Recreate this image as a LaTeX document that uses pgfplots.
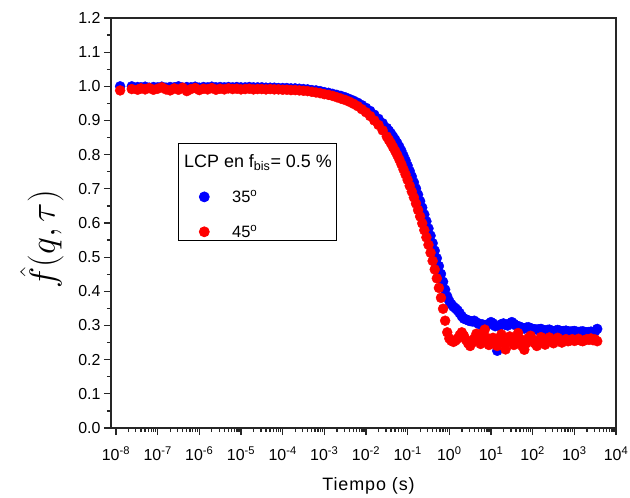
\documentclass[border=0pt]{standalone}
\usepackage{graphicx}
\usepackage{fontspec}
\setmainfont{Liberation Sans}
\usepackage{pgfplots}
\usepackage{pgfplotstable}
\pgfplotsset{compat=1.18}

\pgfplotstableread{
x y
1.259e-8 1.000
2.399e-8 1.000
3.311e-8 0.998
3.981e-8 0.997
5.012e-8 0.999
6.310e-8 0.996
7.943e-8 0.998
1e-7 0.997
1.259e-7 0.999
1.585e-7 0.996
1.995e-7 0.998
2.512e-7 0.997
3.162e-7 1.000
3.981e-7 0.996
5.012e-7 0.998
6.310e-7 0.997
7.943e-7 0.999
1e-6 0.996
1.259e-6 0.998
1.585e-6 0.997
1.995e-6 0.999
2.512e-6 0.997
3.162e-6 0.998
3.981e-6 0.997
5.012e-6 0.998
6.310e-6 0.997
7.943e-6 0.998
1e-5 0.997
1.259e-5 0.997
1.585e-5 0.998
1.995e-5 0.997
2.512e-5 0.997
3.162e-5 0.997
3.981e-5 0.996
5.012e-5 0.996
6.310e-5 0.996
7.943e-5 0.995
1e-4 0.995
1.259e-4 0.995
1.585e-4 0.994
1.995e-4 0.994
2.512e-4 0.993
3.162e-4 0.992
3.981e-4 0.991
5.012e-4 0.989
6.310e-4 0.988
7.943e-4 0.986
1e-3 0.983
1.259e-3 0.981
1.585e-3 0.978
1.995e-3 0.975
2.512e-3 0.972
3.162e-3 0.968
3.981e-3 0.963
5.012e-3 0.958
6.310e-3 0.952
7.943e-3 0.945
1e-2 0.937
1.259e-2 0.928
1.585e-2 0.917
1.995e-2 0.905
2.512e-2 0.892
3.162e-2 0.878
3.548e-2 0.870
3.981e-2 0.862
4.467e-2 0.853
5.012e-2 0.844
5.623e-2 0.834
6.310e-2 0.823
7.079e-2 0.811
7.943e-2 0.797
8.913e-2 0.783
1e-1 0.768
1.122e-1 0.752
1.259e-1 0.736
1.413e-1 0.719
1.585e-1 0.701
1.778e-1 0.683
1.995e-1 0.664
2.239e-1 0.645
2.512e-1 0.625
2.818e-1 0.605
3.162e-1 0.584
3.548e-1 0.563
3.981e-1 0.541
4.467e-1 0.519
5.012e-1 0.497
5.623e-1 0.474
6.310e-1 0.451
7.079e-1 0.428
7.943e-1 0.405
8.913e-1 0.385
1.000 0.371
1.122 0.362
1.259 0.355
1.413 0.350
1.585 0.344
1.778 0.336
1.995 0.327
2.239 0.320
2.512 0.318
2.818 0.315
3.162 0.313
3.548 0.312
3.981 0.314
4.467 0.309
5.012 0.305
5.623 0.304
6.310 0.303
7.079 0.301
7.943 0.300
8.913 0.305
10 0.310
11.22 0.306
12.59 0.298
14.13 0.226
15.85 0.298
17.78 0.304
19.95 0.306
22.39 0.302
25.12 0.300
28.18 0.306
31.62 0.310
35.48 0.305
39.81 0.300
44.67 0.298
50.12 0.296
56.23 0.293
63.10 0.291
70.79 0.294
79.43 0.295
89.13 0.292
100 0.290
112.2 0.289
125.9 0.288
141.3 0.289
158.5 0.290
177.8 0.287
199.5 0.285
223.9 0.287
251.2 0.288
281.8 0.285
316.2 0.283
354.8 0.285
398.1 0.287
446.7 0.285
501.2 0.283
562.3 0.284
631.0 0.285
707.9 0.283
794.3 0.282
891.3 0.283
1000 0.284
1122 0.282
1259 0.281
1413 0.282
1585 0.283
1778 0.281
1995 0.280
2239 0.281
2512 0.282
2818 0.281
3162 0.283
3548 0.290
}\bluedata

\pgfplotstableread{
x y
1.259e-8 0.988
2.399e-8 0.992
3.311e-8 0.990
3.981e-8 0.994
5.012e-8 0.991
6.310e-8 0.995
7.943e-8 0.990
1e-7 0.993
1.259e-7 0.997
1.585e-7 0.991
1.995e-7 0.988
2.512e-7 0.994
3.162e-7 0.990
3.981e-7 0.996
5.012e-7 0.986
6.310e-7 0.992
7.943e-7 0.995
1e-6 0.989
1.259e-6 0.993
1.585e-6 0.991
1.995e-6 0.995
2.512e-6 0.990
3.162e-6 0.993
3.981e-6 0.991
5.012e-6 0.994
6.310e-6 0.992
7.943e-6 0.993
1e-5 0.991
1.259e-5 0.992
1.585e-5 0.993
1.995e-5 0.991
2.512e-5 0.992
3.162e-5 0.992
3.981e-5 0.991
5.012e-5 0.992
6.310e-5 0.991
7.943e-5 0.991
1e-4 0.990
1.259e-4 0.990
1.585e-4 0.989
1.995e-4 0.989
2.512e-4 0.988
3.162e-4 0.987
3.981e-4 0.986
5.012e-4 0.984
6.310e-4 0.982
7.943e-4 0.980
1e-3 0.977
1.259e-3 0.975
1.585e-3 0.972
1.995e-3 0.968
2.512e-3 0.964
3.162e-3 0.960
3.981e-3 0.955
5.012e-3 0.949
6.310e-3 0.942
7.943e-3 0.933
1e-2 0.924
1.259e-2 0.913
1.585e-2 0.900
1.995e-2 0.887
2.512e-2 0.871
3.162e-2 0.853
3.548e-2 0.843
3.981e-2 0.833
4.467e-2 0.822
5.012e-2 0.811
5.623e-2 0.799
6.310e-2 0.786
7.079e-2 0.772
7.943e-2 0.757
8.913e-2 0.742
1e-1 0.726
1.122e-1 0.709
1.259e-1 0.692
1.413e-1 0.675
1.585e-1 0.657
1.778e-1 0.638
1.995e-1 0.619
2.239e-1 0.599
2.512e-1 0.579
2.818e-1 0.558
3.162e-1 0.536
3.548e-1 0.513
3.981e-1 0.489
4.467e-1 0.464
5.012e-1 0.438
5.623e-1 0.410
6.310e-1 0.381
7.079e-1 0.349
7.943e-1 0.314
8.913e-1 0.280
1.000 0.262
1.122 0.255
1.259 0.252
1.413 0.256
1.585 0.262
1.778 0.272
1.995 0.280
2.239 0.270
2.512 0.258
2.818 0.248
3.162 0.240
3.548 0.250
3.981 0.262
4.467 0.276
5.012 0.260
5.623 0.246
6.310 0.278
7.079 0.288
7.943 0.264
8.913 0.243
10 0.250
11.22 0.264
12.59 0.255
14.13 0.240
15.85 0.258
17.78 0.274
19.95 0.250
22.39 0.230
25.12 0.252
28.18 0.268
31.62 0.258
35.48 0.243
39.81 0.262
44.67 0.278
50.12 0.260
56.23 0.240
63.10 0.229
70.79 0.248
79.43 0.264
89.13 0.270
100 0.258
112.2 0.248
125.9 0.240
141.3 0.255
158.5 0.266
177.8 0.252
199.5 0.244
223.9 0.258
251.2 0.265
281.8 0.255
316.2 0.248
354.8 0.256
398.1 0.264
446.7 0.256
501.2 0.250
562.3 0.256
631.0 0.260
707.9 0.254
794.3 0.256
891.3 0.260
1000 0.255
1122 0.257
1259 0.261
1413 0.256
1585 0.254
1778 0.257
1995 0.260
2239 0.258
2512 0.262
2818 0.257
3162 0.259
3548 0.254
}\reddata

\begin{document}
\begin{tikzpicture}
\useasboundingbox (-111bp,-70bp) rectangle (519bp,428bp);
\begin{axis}[
  at={(0,0)}, anchor=south west,
  scale only axis, width=505bp, height=410bp,
  xmode=log, xmin=7.6e-9, xmax=1e4,
  ymin=0, ymax=1.2,
  axis line style={line width=1.5bp, black!85},
  every tick/.style={line width=1.3bp, black!85},
  tick align=outside,
  xtick pos=bottom, ytick pos=left,
  major tick length=7bp, minor tick length=4bp,
  xtick={1e-8,1e-7,1e-6,1e-5,1e-4,1e-3,1e-2,1e-1,1,1e1,1e2,1e3,1e4},
  xticklabels={10\textsuperscript{-8},10\textsuperscript{-7},10\textsuperscript{-6},10\textsuperscript{-5},10\textsuperscript{-4},10\textsuperscript{-3},10\textsuperscript{-2},10\textsuperscript{-1},10\textsuperscript{0},10\textsuperscript{1},10\textsuperscript{2},10\textsuperscript{3},10\textsuperscript{4}},
  xticklabel style={yshift=-8bp},
  ytick={0,0.1,...,1.21},
  minor y tick num=1,
  /pgf/number format/assume math mode=true,
  yticklabel style={/pgf/number format/.cd, fixed, fixed zerofill, precision=1},
  ticklabel style={font=\fontsize{16}{18}\selectfont, text=black},
  xlabel={Tiempo (s)},
  xlabel style={at={(axis description cs:0.51,0)}, anchor=base, yshift=-62bp,
    font=\fontsize{18}{20}\selectfont\addfontfeatures{LetterSpace=5}},
  ylabel={\scalebox{1.45}{$\hat f(q,\tau)$}},
  ylabel style={at={(axis description cs:-0.137,0.46)}, anchor=center,
    font=\fontsize{24.88}{30}\selectfont},
  legend style={at={(axis description cs:0.1327,0.695)}, anchor=north west,
    draw=black, line width=0.8bp, fill=white, inner ysep=0bp,
    font=\fontsize{16.5}{19}\selectfont, row sep=17bp},
  legend cell align=left,
  legend image code/.code={\path (0bp,0bp) (48bp,0bp); \draw[#1] plot coordinates {(22.5bp,0bp)};},
]
\addlegendimage{empty legend}
\addlegendentry{\hspace{-48bp}\rule{0pt}{22bp}\fontsize{18}{20}\selectfont LCP en f\textsubscript{bis}= 0.5 \%}
\addplot[only marks, mark=*, mark size=5bp, blue, mark options={draw=blue, fill=blue}] table[x=x,y=y] {\bluedata};
\addlegendentry{35\textsuperscript{o}}
\addplot[only marks, mark=*, mark size=5bp, red, mark options={draw=red, fill=red}] table[x=x,y=y] {\reddata};
\addlegendentry{45\textsuperscript{o}}
\end{axis}
\end{tikzpicture}
\end{document}
